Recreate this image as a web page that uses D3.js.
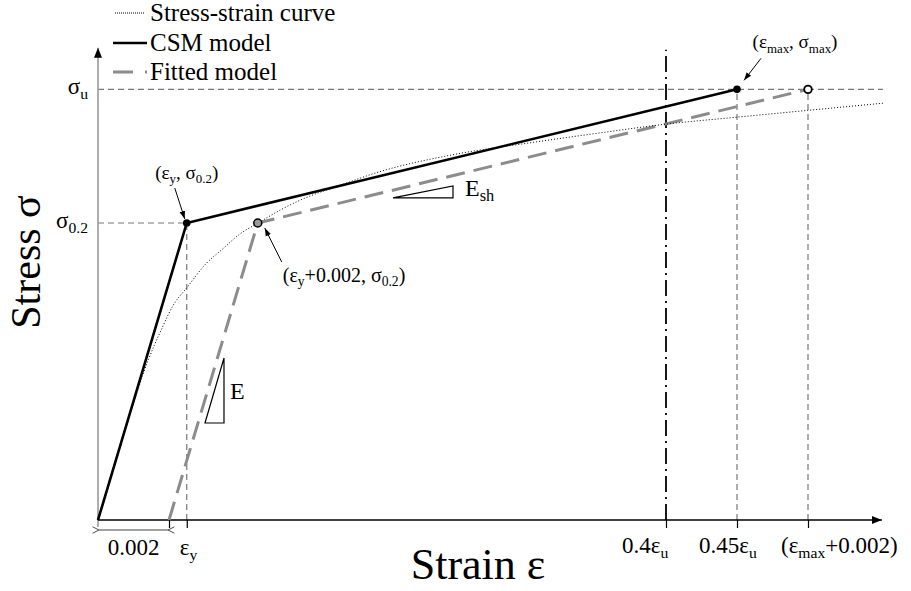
<!DOCTYPE html>
<html>
<head>
<meta charset="utf-8">
<script src="https://cdn.jsdelivr.net/npm/d3@7"></script>
<style>
  body { margin: 0; background: #fff; }
  svg text { font-family: "Liberation Serif", "Times New Roman", serif; fill: #000; }
</style>
</head>
<body>
<script>
// material values (normalised so the picture matches)
var eps02 = 0.002, epsY = 0.0025, epsU = 0.04, epsMax = 0.018;
var sig02 = 300, sigU = 435;

// stress-strain curve
var curveStrain = [0, 0.00085, 0.00142, 0.00178, 0.00212, 0.00251, 0.00302, 0.00355, 0.0040, 0.00451,
  0.00513, 0.00569, 0.00682, 0.00786, 0.0100, 0.01217, 0.01414, 0.01603, 0.01803, 0.02006, 0.02211];
var curveStress = [0, 101, 162, 192, 217, 235, 258, 275, 289, 300,
  313, 323, 338, 351, 369, 381, 391, 400, 407, 414, 421];

var csmStrain = [0, epsY, 0.45 * epsU];
var csmStress = [0, sig02, sigU];
var fitStrain = [eps02, epsY + eps02, epsMax + eps02];
var fitStress = [0, sig02, sigU];

var xTickValues = [eps02, epsY, 0.4 * epsU, 0.45 * epsU, epsMax + eps02];
var xTickLabels = [null, ["ε", "y"], ["0.4ε", "u"], ["0.45ε", "u"], ["(ε", "max", "+0.002)"]];
var yTickValues = [sig02, sigU];
var yTickLabels = [["σ", "0.2"], ["σ", "u"]];
var legendLabels = ["Stress-strain curve", "CSM model", "Fitted model"];

var W = 911, H = 591;
var svg = d3.select("body").append("svg").attr("width", W).attr("height", H);

var x = d3.scaleLinear().domain([0, 0.02]).range([98, 808]);
var y = d3.scaleLinear().domain([0, 300]).range([520, 223]);

var xEnd = 0.02208, yEnd = 477;

var defs = svg.append("defs");
defs.append("marker").attr("id", "axArrow").attr("viewBox", "0 -5 10 10")
  .attr("refX", 10).attr("refY", 0).attr("markerWidth", 10).attr("markerHeight", 10)
  .attr("markerUnits", "userSpaceOnUse").attr("orient", "auto")
  .append("path").attr("d", "M0,-4L10,0L0,4Z").attr("fill", "#000");
defs.append("marker").attr("id", "smArrow").attr("viewBox", "0 -5 10 10")
  .attr("refX", 10).attr("refY", 0).attr("markerWidth", 8).attr("markerHeight", 8)
  .attr("markerUnits", "userSpaceOnUse").attr("orient", "auto")
  .append("path").attr("d", "M0,-3.5L10,0L0,3.5Z").attr("fill", "#000");
defs.append("marker").attr("id", "chev").attr("viewBox", "0 -5 10 10")
  .attr("refX", 1).attr("refY", 0).attr("markerWidth", 8).attr("markerHeight", 8)
  .attr("markerUnits", "userSpaceOnUse").attr("orient", "auto-start-reverse")
  .append("path").attr("d", "M9,-4L1,0L9,4").attr("fill", "none").attr("stroke", "#444").attr("stroke-width", 1.2);

function rich(sel, parts, size) {
  // even parts normal, odd parts subscript
  var shift = size * 0.22;
  parts.forEach(function (p, i) {
    var t = sel.append("tspan").text(p);
    if (i % 2 == 1) t.attr("font-size", size * 0.68).attr("dy", shift);
    else if (i > 0) t.attr("dy", -shift);
  });
  return sel;
}

var line = d3.line().x(function (d) { return x(d[0]); }).y(function (d) { return y(d[1]); });
function pts(a, b) { return a.map(function (v, i) { return [v, b[i]]; }); }

// grey dashed guides
var guides = [
  [[0, sigU], [0.02211, sigU]],
  [[0, sig02], [epsY, sig02]],
  [[epsY, 0], [epsY, sig02]],
  [[0.45 * epsU, 0], [0.45 * epsU, sigU]],
  [[epsMax + eps02, 0], [epsMax + eps02, sigU]]
];
svg.append("g").selectAll("path").data(guides).enter().append("path")
  .attr("d", line).attr("fill", "none").attr("stroke", "#777")
  .attr("stroke-width", 1.2).attr("stroke-dasharray", "6,4");

// dash-dot at 0.4 eps_u
svg.append("path").attr("d", line([[0.4 * epsU, 0], [0.4 * epsU, 475]]))
  .attr("stroke", "#000").attr("stroke-width", 1.8).attr("stroke-dasharray", "16,5,2,5");

// axes
svg.append("line").attr("x1", x(0)).attr("y1", y(0) + 7).attr("x2", x(0)).attr("y2", y(yEnd))
  .attr("stroke", "#999").attr("stroke-width", 1.6).attr("marker-end", "url(#axArrow)");
svg.append("line").attr("x1", x(0)).attr("y1", y(0)).attr("x2", x(xEnd)).attr("y2", y(0))
  .attr("stroke", "#000").attr("stroke-width", 1.3).attr("marker-end", "url(#axArrow)");

var xAxis = svg.append("g").attr("transform", "translate(0," + y(0) + ")")
  .call(d3.axisBottom(x).tickValues(xTickValues).tickSize(8).tickFormat(""));
xAxis.select(".domain").remove();
xAxis.selectAll(".tick line").attr("stroke", "#000").attr("stroke-width", 1.2);

// fitted model, CSM, curve
svg.append("path").attr("d", line(pts(fitStrain, fitStress))).attr("fill", "none")
  .attr("stroke", "#8c8c8c").attr("stroke-width", 3).attr("stroke-dasharray", "19,9");
svg.append("path").attr("d", line(pts(csmStrain, csmStress))).attr("fill", "none")
  .attr("stroke", "#000").attr("stroke-width", 2.6);
svg.append("path").attr("d", line.curve(d3.curveMonotoneX)(pts(curveStrain, curveStress)))
  .attr("fill", "none").attr("stroke", "#000").attr("stroke-width", 1).attr("stroke-dasharray", "1,2");
line.curve(d3.curveLinear);

// points
svg.append("g").selectAll("circle").data([[epsY, sig02], [0.45 * epsU, sigU]]).enter()
  .append("circle").attr("cx", function (d) { return x(d[0]); }).attr("cy", function (d) { return y(d[1]); })
  .attr("r", 3.8).attr("fill", "#000");
svg.append("circle").attr("cx", x(epsY + eps02)).attr("cy", y(sig02)).attr("r", 4)
  .attr("fill", "#999").attr("stroke", "#000").attr("stroke-width", 1.5);
svg.append("circle").attr("cx", x(epsMax + eps02)).attr("cy", y(sigU)).attr("r", 3.8)
  .attr("fill", "#fff").attr("stroke", "#000").attr("stroke-width", 1.8);

// slope triangles
var triE = [[0.003014, 98], [0.003549, 98], [0.003549, 163.6]];
var triSh = [[0.00831, 325.3], [0.0100, 325.3], [0.0100, 337.4]];
[triE, triSh].forEach(function (t) {
  svg.append("path").attr("d", line(t) + "Z").attr("fill", "none").attr("stroke", "#000").attr("stroke-width", 1.2);
});
svg.append("text").attr("x", x(0.003549) + 6).attr("y", y(130) + 8).attr("font-size", 24).text("E");
rich(svg.append("text").attr("x", x(0.0100) + 12).attr("y", y(325.3) - 2).attr("font-size", 24), ["E", "sh"], 24);

// point annotations
var notes = [
  { p: [epsY, sig02], from: [-12, -35], to: [-2, -4], parts: ["(ε", "y", ", σ", "0.2", ")"], tx: 0, ty: -44, anchor: "middle", fs: 19 },
  { p: [epsY + eps02, sig02], from: [24, 39], to: [7, 5], parts: ["(ε", "y", "+0.002, σ", "0.2", ")"], tx: 25, ty: 59, anchor: "start", fs: 20 },
  { p: [0.45 * epsU, sigU], from: [24, -31], to: [7, -9], parts: ["(ε", "max", ", σ", "max", ")"], tx: 58, ty: -41, anchor: "middle", fs: 19 }
];
notes.forEach(function (n) {
  var px = x(n.p[0]), py = y(n.p[1]);
  svg.append("line").attr("x1", px + n.from[0]).attr("y1", py + n.from[1])
    .attr("x2", px + n.to[0]).attr("y2", py + n.to[1])
    .attr("stroke", "#000").attr("stroke-width", 1).attr("marker-end", "url(#smArrow)");
  rich(svg.append("text").attr("x", px + n.tx).attr("y", py + n.ty).attr("font-size", n.fs)
    .attr("text-anchor", n.anchor), n.parts, n.fs);
});

// 0.002 span
svg.append("line").attr("x1", x(0) + 1).attr("y1", y(0) + 10).attr("x2", x(eps02) - 1).attr("y2", y(0) + 10)
  .attr("stroke", "#444").attr("stroke-width", 1.2)
  .attr("marker-start", "url(#chev)").attr("marker-end", "url(#chev)");
svg.append("text").attr("x", x(eps02 / 2)).attr("y", 555).attr("font-size", 23)
  .attr("text-anchor", "middle").text("0.002");

// x tick labels
var xLabelDx = [0, -7, -44, -38, -27];
xTickValues.forEach(function (v, i) {
  if (!xTickLabels[i]) return;
  rich(svg.append("text").attr("x", x(v) + xLabelDx[i]).attr("y", i == 1 ? 555 : 553)
    .attr("font-size", 23), xTickLabels[i], 23);
});

// y tick labels
yTickValues.forEach(function (v, i) {
  rich(svg.append("text").attr("x", 88).attr("y", y(v) + 5).attr("font-size", 23)
    .attr("text-anchor", "end"), yTickLabels[i], 23);
});

// axis titles
svg.append("text").attr("transform", "translate(40,262) rotate(-90)").attr("text-anchor", "middle")
  .attr("font-size", 42).text("Stress σ");
svg.append("text").attr("x", 478).attr("y", 579).attr("text-anchor", "middle")
  .attr("font-size", 44).text("Strain ε");

// legend
var leg = svg.append("g");
var legRows = [13, 43, 72];
legendLabels.forEach(function (t, i) {
  leg.append("text").attr("x", 150).attr("y", legRows[i] + 8).attr("font-size", 25).text(t);
});
leg.append("line").attr("x1", 115).attr("x2", 145).attr("y1", legRows[0]).attr("y2", legRows[0])
  .attr("stroke", "#000").attr("stroke-width", 1).attr("stroke-dasharray", "1,1");
leg.append("line").attr("x1", 113).attr("x2", 147).attr("y1", legRows[1]).attr("y2", legRows[1])
  .attr("stroke", "#000").attr("stroke-width", 2.6);
leg.append("line").attr("x1", 113).attr("x2", 147).attr("y1", legRows[2]).attr("y2", legRows[2])
  .attr("stroke", "#8c8c8c").attr("stroke-width", 3).attr("stroke-dasharray", "20,12");
</script>
</body>
</html>
